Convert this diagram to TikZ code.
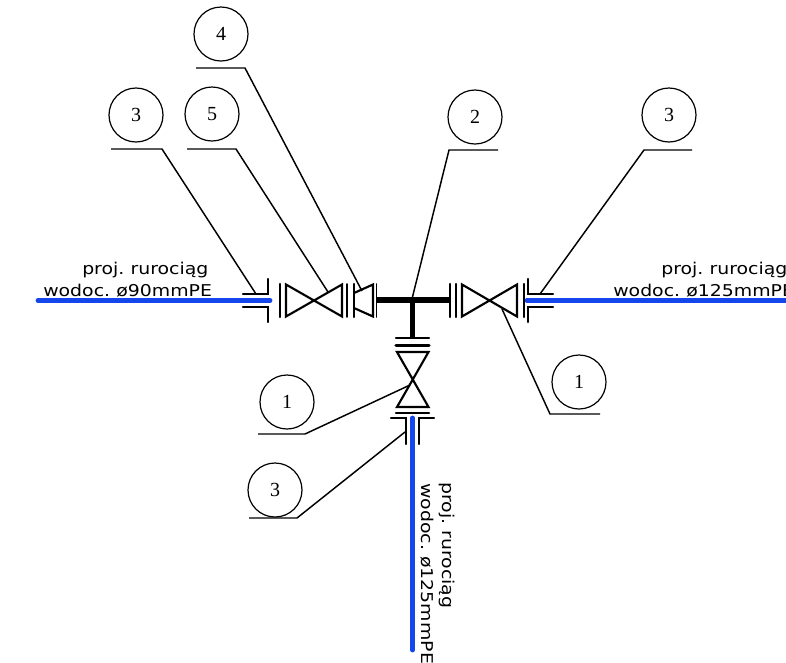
\documentclass[tikz,border=0pt]{standalone}
\usepackage{fontspec}
\setmainfont{Liberation Serif}
\newfontfamily\pipefont{DejaVu Sans}
\definecolor{pipeblue}{RGB}{20,70,235}
\tikzset{
  x=0.75pt,y=-0.75pt,
  bubble/.style={circle,draw,line width=0.9pt,minimum size=40.5pt,inner sep=0pt,font=\fontsize{15}{15}\selectfont},
  lead/.style={line width=1.1pt},
  fit/.style={line width=1.8pt,line cap=round},
  thinfit/.style={line width=1.4pt,line cap=round},
  valve/.style={line width=1.6pt,line join=miter},
  pipe/.style={line width=3.6pt,color=pipeblue,line cap=round},
  main/.style={line width=4.2pt},
  lab/.style={inner sep=0pt,anchor=base west,font=\pipefont\fontsize{12.2}{12.2}\selectfont}
}
\newcommand{\wid}[1]{\scalebox{1.16}[1]{#1}}
\begin{document}
\begin{tikzpicture}
\useasboundingbox (0,0) rectangle (786,662);
\begin{scope}
\clip (0,0) rectangle (786,662);
% bubbles
\node[bubble] (b3a) at (136,115) {3};
\node[bubble] (b5) at (212,114) {5};
\node[bubble] (b4) at (221,34) {4};
\node[bubble] (b2) at (475,117) {2};
\node[bubble] (b3b) at (669,115) {3};
\node[bubble] (b1a) at (579,382) {1};
\node[bubble] (b1b) at (287,402) {1};
\node[bubble] (b3c) at (275,490) {3};
% leader coordinates
\coordinate (t3a) at (256,294);
\coordinate (t5) at (328,292);
\coordinate (t4) at (362,291);
\coordinate (t2) at (412,299);
\coordinate (t3b) at (540,294);
\coordinate (t1a) at (502,309);
\coordinate (t1b) at (410,385);
\coordinate (t3c) at (405,432);
\draw[lead] (111,149) -- (162,149) -- (t3a);
\draw[lead] (187,149) -- (236,149) -- (t5);
\draw[lead] (196,68) -- (245,68) -- (t4);
\draw[lead] (498,150) -- (449,150) -- (t2);
\draw[lead] (692,150) -- (644,150) -- (t3b);
\draw[lead] (600,414) -- (550,414) -- (t1a);
\draw[lead] (258,434) -- (305,434) -- (t1b);
\draw[lead] (249,518) -- (297,518) -- (t3c);
% blue pipes
\draw[pipe] (38,300.5) -- (270,300.5);
\draw[pipe] (527,300.5) -- (790,300.5);
\draw[pipe] (412.5,418) -- (412.5,650);
% main tee
\draw[main] (376,300) -- (450,300);
\draw[main] (412.5,300) -- (412.5,338);
% left flange
\draw[fit] (243,294) -- (268,294) -- (268,279);
\draw[fit] (243,307) -- (268,307) -- (268,322);
% left valve
\draw[fit] (280,284) -- (280,317);
\draw[valve] (286,284.5) -- (342,316.5) -- (342,284.5) -- (286,316.5) -- cycle;
\draw[thinfit] (347,284) -- (347,317);
\draw[fit] (354,284) -- (354,317);
% reducer
\draw[valve] (354,293) -- (373,284.5) -- (373,316.5) -- (354,308);
\draw[thinfit] (376.5,284) -- (376.5,317);
% right side
\draw[fit] (450,284) -- (450,317);
\draw[fit] (456,284) -- (456,317);
\draw[valve] (462,284.5) -- (517,316.5) -- (517,284.5) -- (462,316.5) -- cycle;
\draw[fit] (524,284) -- (524,317);
\draw[fit] (553,294) -- (528,294) -- (528,279);
\draw[fit] (553,307) -- (528,307) -- (528,322);
% lower valve
\draw[fit] (396,338) -- (429,338);
\draw[fit,line width=2.3pt] (396,345.5) -- (429,345.5);
\draw[valve] (397,352) -- (428.5,407) -- (397,407) -- (428.5,352) -- cycle;
\draw[fit] (396,413) -- (429,413);
\draw[fit] (391,418) -- (406,418) -- (406,444);
\draw[fit] (434,418) -- (419,418) -- (419,444);
% labels
\node[lab] (l1) at (82,274) {\wid{proj.\hspace{4pt}rurociąg}};
\node[lab] (l2) at (43,296) {\wid{wodoc.\hspace{4pt}ø90mmPE}};
\node[lab] (l3) at (661,274) {\wid{proj.\hspace{4pt}rurociąg}};
\node[lab] (l4) at (613,296) {\wid{wodoc.\hspace{4pt}ø125mmPE}};
\node[lab,rotate=-90] (l5) at (442,482) {\wid{proj.\hspace{4pt}rurociąg}};
\node[lab,rotate=-90] (l6) at (421,483) {\wid{wodoc.\hspace{4pt}ø125mmPE}};
\end{scope}
\end{tikzpicture}
\end{document}
